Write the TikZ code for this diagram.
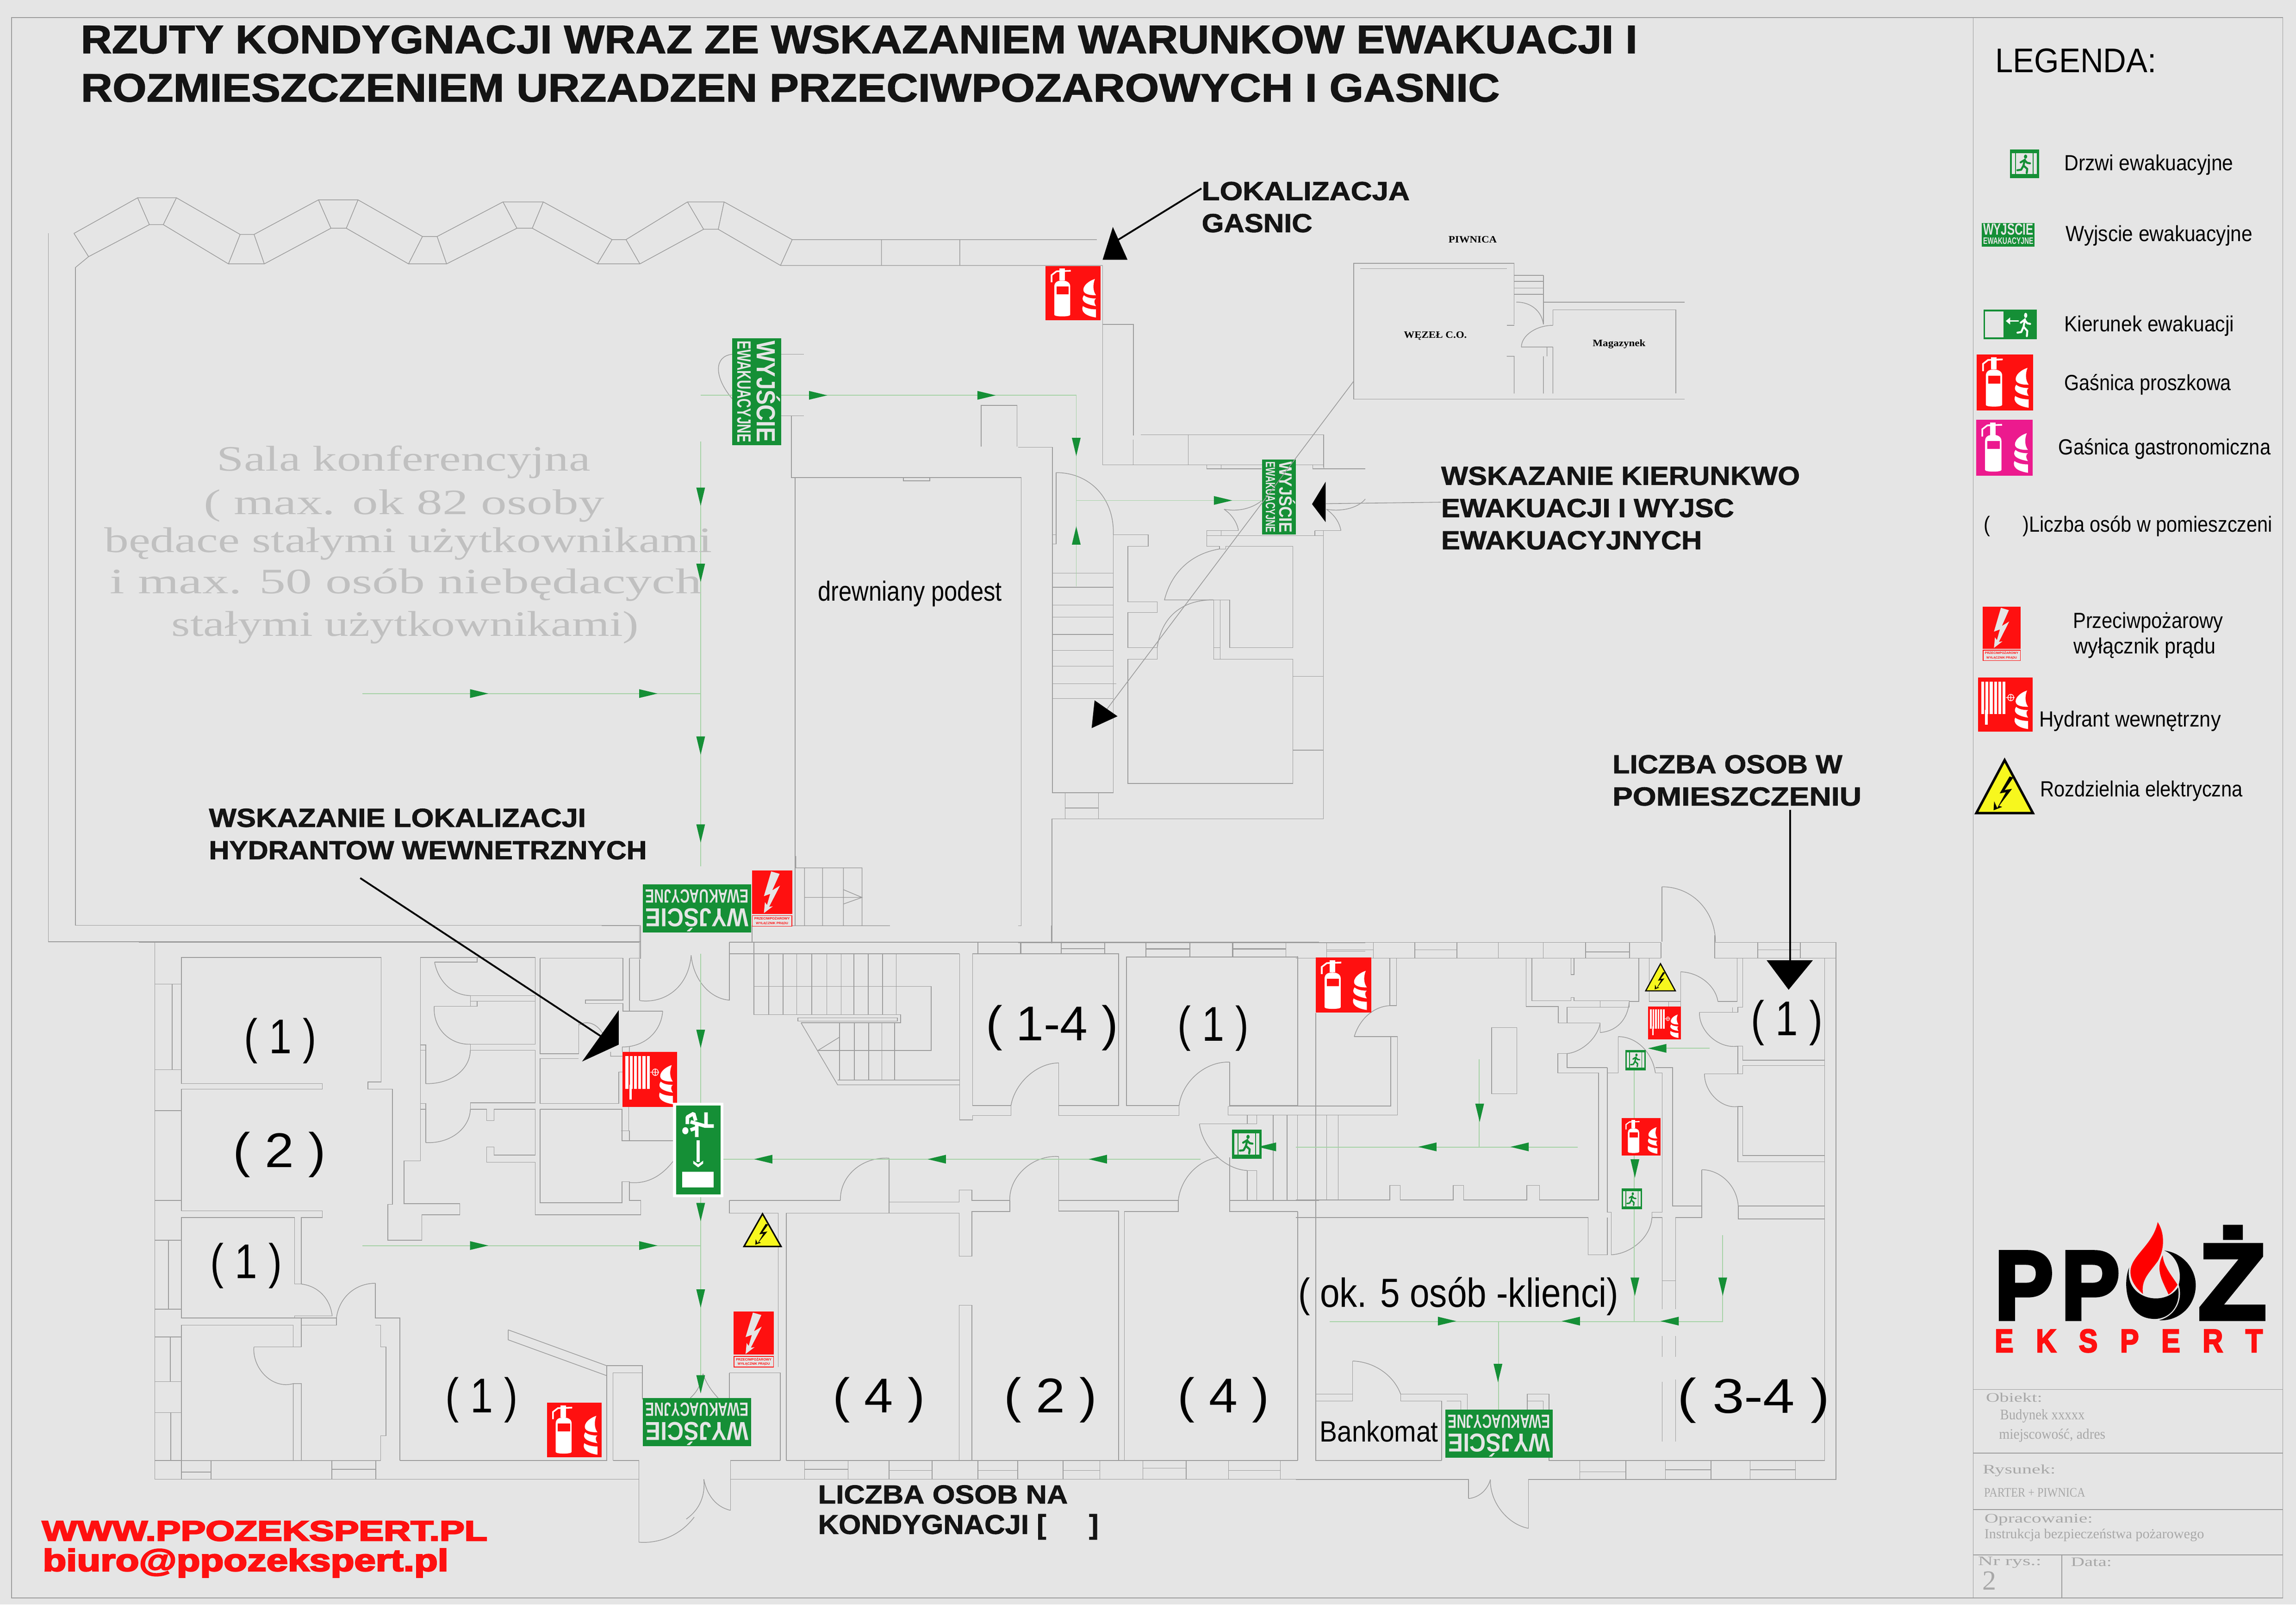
\documentclass[tikz,border=0pt]{standalone}
\usepackage{fontspec}
\usepackage{graphicx}
\setmainfont{Liberation Sans}
\newfontfamily\srf{Liberation Serif}
\newfontfamily\logofont[BoldFeatures={FakeBold=4}]{Liberation Sans}
\newfontfamily\stencilfont[BoldFeatures={FakeBold=1.5}]{Liberation Sans}
\newlength\pu
\setlength\pu{0.031639cm}
\newcounter{nd}
\definecolor{bgc}{HTML}{E5E5E5}
\definecolor{gr}{HTML}{158F36}
\definecolor{rd}{HTML}{FF1010}
\definecolor{pk}{HTML}{EC1A8E}
\definecolor{wall}{HTML}{9C9C9C}
\definecolor{gline}{HTML}{A6D2A6}
\definecolor{grtx}{HTML}{C0C0C0}
\definecolor{tbtx}{HTML}{A8A8A8}
\definecolor{ylw}{HTML}{F7F71E}
\tikzset{
 plan/.style={draw=wall,line width=.42pt},
 frameline/.style={draw=wall,line width=.5pt},
 route/.style={draw=gline,line width=.5pt},
 leader/.style={draw=black,line width=1.1pt},
 thinleader/.style={draw=wall,line width=.45pt},
 txt/.style={inner sep=0,anchor=west,text=black},
 stencil/.style={font=\stencilfont\bfseries,text=black!92},
 web/.style={font=\logofont\bfseries,text=rd},
 room/.style={text=black},
 grey/.style={font=\srf,text=grtx},
 tb/.style={font=\srf,text=tbtx},
 smallser/.style={font=\srf\bfseries,text=black},
 z1/.style={x=.5\pu,y=-.3527\pu},
 z2/.style={shift={(784,0)},x=.5\pu,y=-.3527\pu},
 z3/.style={shift={(0,553)},x=.5\pu,y=-.3511\pu},
 z4/.style={shift={(784,553)},x=.5\pu,y=-.3511\pu},
 z6/.style={shift={(1340,821.7)},x=.1453\pu,y=-.1798\pu},
 z7/.style={shift={(410.9,584.7)},x=.1411\pu,y=-.1613\pu},
 z8/.style={shift={(695.3,300.3)},x=.1512\pu,y=-.2318\pu},
 za/.style={shift={(94.8,632.1)},x=.2419\pu,y=-.2721\pu},
 zb/.style={shift={(474.1,632.1)},x=.2721\pu,y=-.2721\pu},
 zc/.style={shift={(885,616.3)},x=.2620\pu,y=-.2822\pu},
}
\newcommand\tx[6]{\stepcounter{nd}\node[txt,#5] (n\arabic{nd}) at (#1,{#2+1.5}) {\fontsize{#4}{#4}\selectfont\resizebox{#3\pu}{\height}{#6}};}
\newcommand\cp[6]{\stepcounter{nd}\node[txt,#5] (n\arabic{nd}) at (#1,#2) {\fontsize{20}{20}\selectfont\resizebox{#3\pu}{#4\pu}{#6}};}
\newcommand\ga[3]{\fill[gr,shift={(#1,#2)},rotate=#3] (0,-3) -- (0,3) -- (12.5,0) -- cycle;}
\newcommand\flames{%
 \fill[white] (.90,.24) .. controls (.72,.30) and (.64,.44) .. (.72,.50) .. controls (.78,.54) and (.86,.54) .. (.92,.54) .. controls (.86,.46) and (.86,.34) .. (.90,.24) -- cycle;
 \fill[white] (.70,.54) .. controls (.64,.62) and (.68,.70) .. (.92,.74) .. controls (.88,.68) and (.88,.62) .. (.92,.60) .. controls (.82,.60) and (.74,.58) .. (.70,.54) -- cycle;
 \fill[white] (.68,.74) .. controls (.64,.84) and (.72,.92) .. (.92,.95) -- (.92,.80) .. controls (.82,.80) and (.74,.78) .. (.68,.74) -- cycle;}
\newcommand\extsign[5]{\begin{scope}[shift={(#1,#2)},x=#3\pu,y=-#4\pu]
 \fill[#5] (0,0) rectangle (1,1);
 \fill[white] (.16,.9) -- (.16,.38) .. controls (.16,.3) and (.22,.27) .. (.3,.27) .. controls (.38,.27) and (.45,.3) .. (.45,.38) -- (.45,.9) .. controls (.45,.94) and (.16,.94) .. (.16,.9) -- cycle;
 \fill[white] (.25,.05) rectangle (.35,.27);
 \draw[white,line width={#4*.03*\pu}] (.11,.3) -- (.11,.17) -- (.2,.1) -- (.46,.09);
 \fill[#5] (.2,.38) rectangle (.42,.52);
 \flames
\end{scope}}
\newcommand\hydsign[4]{\begin{scope}[shift={(#1,#2)},x=#3\pu,y=-#4\pu]
 \fill[rd] (0,0) rectangle (1,1);
 \foreach \i in {0,...,5}{\fill[white] ({.057+.078*\i},.08) rectangle ({.057+.078*\i+.052},.67);}
 \fill[white] (.125,.6) rectangle (.175,.87);
 \draw[white,line width={#4*.012*\pu}] (.6,.37) ellipse (.055 and .06) (.51,.37) -- (.67,.37) (.6,.31) -- (.6,.43);
 \flames
\end{scope}}
\newcommand\swsign[4]{\begin{scope}[shift={(#1,#2)},x=#3\pu,y=-#4\pu]
 \fill[rd] (0,0) rectangle (1,.77);
 \fill[bgc] (.479,.02) -- (.688,.063) -- (.505,.354) -- (.698,.271) -- (.427,.646) -- (.521,.637) -- (.297,.758) -- (.323,.563) -- (.375,.614) -- (.453,.417) -- (.297,.458) -- cycle;
 \draw[rd,fill=bgc,line width={#4*.012*\pu}] (.01,.8) rectangle (.99,.99);
 \stepcounter{nd}\node[inner sep=0,text=rd] (n\arabic{nd}) at (.5,.85) {\fontsize{6}{6}\selectfont\resizebox{\dimexpr #3\pu*88/100\relax}{!}{\bfseries PRZECIWPOŻAROWY}};
 \stepcounter{nd}\node[inner sep=0,text=rd] (n\arabic{nd}) at (.5,.94) {\fontsize{6}{6}\selectfont\resizebox{\dimexpr #3\pu*80/100\relax}{!}{\bfseries WYŁĄCZNIK PRĄDU}};
\end{scope}}
\newcommand\warnsign[5]{\begin{scope}[shift={(#1,#2)},x=#3\pu,y=-#4\pu]
 \draw[black,fill=ylw,line width=#5,line join=miter] (.5,.03) -- (.04,.97) -- (.96,.97) -- cycle;
 \fill[black] (.58,.32) -- (.42,.62) -- (.52,.6) -- (.38,.88) -- (.33,.76) -- (.32,.92) -- (.46,.86) -- (.41,.84) -- (.62,.54) -- (.5,.56) -- (.64,.34) -- cycle;
\end{scope}}
\newcommand\manfig[2]{%
 \fill[#2] (.55,.19) circle (.07 and .09);
 \draw[#2,line width=#1,line cap=round,line join=round] (.52,.32) -- (.46,.58) -- (.62,.72) -- (.6,.9) (.46,.58) -- (.36,.76) -- (.2,.78) (.5,.34) -- (.34,.44) (.5,.34) -- (.62,.46) -- (.74,.48);}
\newcommand\doorsign[4]{\begin{scope}[shift={(#1,#2)},x=#3\pu,y=-#4\pu]
 \fill[gr] (0,0) rectangle (1,1);
 \fill[bgc] (.07,.13) rectangle (.93,.86);
 \begin{scope}[shift={(.1,.1)},x=.8*#3\pu,y=-.8*#4\pu]\manfig{{#4*.07*\pu}}{gr}\end{scope}
 \draw[gr,line width={#4*.04*\pu}] (.2,.13) -- (.2,.86) (.8,.13) -- (.8,.86);
\end{scope}}
\newcommand\exitsign[6]{\begin{scope}[shift={(#1,#2)},rotate=#5]
 \fill[gr] ({-#3/2},{-#4/2}) rectangle ({#3/2},{#4/2});
 \stepcounter{nd}\node[inner sep=0,text=bgc,transform shape] (n\arabic{nd}) at (0,{-.24*#4}) {\fontsize{20}{20}\selectfont\resizebox*{\dimexpr #3\pu*95/100\relax}{\dimexpr #4\pu*48/100\relax}{\bfseries #6}};
 \stepcounter{nd}\node[inner sep=0,text=bgc,transform shape] (n\arabic{nd}) at (0,{.255*#4}) {\fontsize{20}{20}\selectfont\resizebox*{\dimexpr #3\pu*95/100\relax}{\dimexpr #4\pu*28/100\relax}{\bfseries EWAKUACYJNE}};
\end{scope}}
\begin{document}
\begin{tikzpicture}[x=\pu,y=-\pu]
\useasboundingbox (0,0) rectangle (1568,1103.7);
\fill[white] (0,0) rectangle (1568,1103.7);
\fill[bgc] (0,0) rectangle (1568,1095.8);
\draw[frameline] (8,12) rectangle (1559,1091.4);
\draw[frameline] (1347.5,12) -- (1347.5,1091.4);
\draw[frameline] (1347.5,949) -- (1559,949) (1347.5,992.5) -- (1559,992.5) (1347.5,1031) -- (1559,1031) (1347.5,1062) -- (1559,1062) (1408,1062) -- (1408,1091.4);
% ---------- upper plan
\begin{scope}[z1]
\draw[plan] (101,452) -- (188,383) -- (241,383) -- (328,454) -- (347,454) -- (435,387) -- (489,387) -- (577,458) -- (597,458) -- (687,391) -- (742,391) -- (836,464) -- (855,464) -- (939,391) -- (989,391) -- (1082,464) -- (1498,464);
\draw[plan] (103,518) -- (121,497) -- (204,435) -- (223,435) -- (312,511) -- (361,511) -- (452,442) -- (473,442) -- (558,511) -- (610,511) -- (706,442) -- (727,442) -- (816,511) -- (874,511) -- (961,444) -- (981,444) -- (1066,514) -- (1506,514);
\draw[plan] (101,452) -- (121,497) (188,383) -- (204,435) (241,383) -- (223,435) (328,454) -- (312,511) (347,454) -- (361,511) (435,387) -- (452,442) (489,387) -- (473,442) (577,458) -- (558,511) (597,458) -- (610,511) (687,391) -- (706,442) (742,391) -- (727,442) (836,464) -- (816,511) (855,464) -- (874,511) (939,391) -- (961,444) (989,391) -- (981,444) (1082,464) -- (1066,514) (1204,464) -- (1204,514) (1311,464) -- (1311,514);
\draw[plan] (66,452) -- (66,1568) (103,518) -- (103,1568);
\draw[plan] (1506,514) -- (1506,900) (1506,628) -- (1548,628) -- (1548,843);
\draw[plan] (1081,805) -- (1081,925) -- (1395,925) (1234,925) -- (1234,931) -- (1270,931) -- (1270,925) (1340,865) -- (1340,785) -- (1389,785) -- (1389,865) (1067,686) -- (1098,686) (1067,805) -- (1098,805);
\draw[plan] (1000,686) .. controls (975,690) and (975,730) .. (1000,772);
\end{scope}
\draw[plan] (543,326) -- (543,632);
\begin{scope}[z8]
\draw[plan] (0,22) -- (155,22) -- (155,1040) -- (430,1040) -- (430,280);
\draw[plan] (0,112) -- (14,112) -- (14,1432) -- (0,1432);
\draw[plan] (172,97) -- (172,307) -- (155,307) (155,280) -- (172,280);
\draw[plan] (172,97) .. controls (320,97) and (435,170) .. (430,280);
\draw[plan] (430,280) -- (588,280) -- (588,314) -- (496,314) -- (496,478) -- (628,478) -- (628,509) -- (496,509) -- (496,613) -- (628,613) -- (628,647) -- (496,647) -- (496,1013) -- (1241,1013) -- (1241,647) -- (883,647) -- (883,472) -- (956,472) -- (956,613) -- (1241,613) -- (1241,314) -- (938,314) -- (938,322) -- (910,322) -- (910,314) -- (852,314) -- (852,268) -- (917,268);
\draw[plan] (913,472) -- (913,647) (883,613) -- (913,613);
\draw[plan] (910,322) .. controls (790,335) and (695,385) .. (661,472) -- (883,472);
\draw[plan] (880,472) .. controls (760,472) and (650,510) .. (628,613);
\draw[plan] (155,393) -- (430,393) (155,435) -- (430,435) (155,487) -- (430,487) (155,523) -- (430,523) (155,574) -- (430,574) (155,621) -- (430,621) (155,667) -- (430,667) (155,719) -- (443,719) (155,763) -- (430,763);
\draw[plan] (212,1040) -- (212,1117) (363,1040) -- (363,1117) (212,1085) -- (363,1085);
\draw[plan] (152,1485) -- (152,1117) -- (1379,1117) -- (1379,283) -- (852,283);
\draw[plan] (1241,697) -- (1379,697) (1241,915) -- (1379,915);
\draw[plan] (382,0) -- (382,74) -- (1381,74) -- (1381,0) (520,0) -- (520,74) (768,0) -- (768,74) (1381,74) -- (1381,86);
\draw[plan] (852,74) -- (852,86) -- (1100,86) (917,74) -- (917,86) (1331,74) -- (1331,86) -- (1568,86);
\draw[plan] (917,268) -- (995,268) (917,268) -- (917,283) (1340,268) -- (1458,268) (1340,268) -- (1340,283) (1379,268) -- (1379,283);
\draw[plan] (930,205) .. controls (965,220) and (990,245) .. (995,268);
\draw[plan] (930,205) .. controls (990,212) and (1050,205) .. (1100,180);
\draw[plan] (1392,205) .. controls (1425,220) and (1450,240) .. (1458,268);
\draw[plan] (1392,205) .. controls (1450,212) and (1530,205) .. (1568,175);
\draw[plan] (0,1482) -- (1568,1482) (10,1482) -- (10,1515) (195,1482) -- (195,1515) (195,1500) -- (392,1500) (392,1482) -- (392,1515) (578,1482) -- (578,1524) (578,1502) -- (775,1502) (775,1482) -- (775,1524) (968,1482) -- (968,1524) (968,1502) -- (1209,1502) (1209,1482) -- (1209,1524) (1393,1482) -- (1393,1527) (1393,1507) -- (1568,1507);
\end{scope}
\begin{scope}[z2]
\draw[plan] (500,510) -- (281,510) -- (281,773) -- (733,773) (290,520) -- (490,520) (500,510) -- (500,628) (490,630) -- (500,630);
\draw[plan] (500,533) -- (540,533) (500,545) -- (540,545) (500,558) -- (540,558) (500,570) -- (540,570) (540,533) -- (540,628);
\draw[plan] (503,585) .. controls (525,585) and (538,605) .. (540,628);
\draw[plan] (540,585) -- (733,585) (553,600) -- (721,600) -- (721,762) (553,600) -- (553,630);
\draw[plan] (553,630) .. controls (530,630) and (510,650) .. (510,672) -- (553,672) (545,672) -- (545,690) (553,672) -- (553,762) (540,690) -- (540,762) (490,690) -- (500,690) -- (500,762);
\draw[plan] (-10,842) -- (240,842) -- (240,905) (55,842) -- (55,900);
\end{scope}
\begin{scope}[z3]
\draw[plan] (66,0) -- (66,257) -- (875,257) (103,0) -- (103,225) -- (875,225) (875,225) -- (875,290);
\draw[plan] (1437,17) -- (1437,257);
\end{scope}
% ---------- north stair and main door
\begin{scope}[z7]
\draw[plan] (940,0) -- (940,50) -- (1260,50) -- (1260,295) (982,50) -- (982,295) (1069,50) -- (1069,295) (1170,50) -- (1170,295) (982,175) -- (1260,175) (1170,142) -- (1260,175) -- (1170,203) (729,295) -- (1395,295);
\draw[plan] (183,295) -- (183,440) (0,295) -- (183,295) (185,440) -- (185,612);
\draw[plan] (185,612) .. controls (300,625) and (420,560) .. (433,420);
\draw[plan] (433,420) .. controls (445,530) and (530,605) .. (619,610);
\draw[plan] (619,610) -- (619,366) (729,295) -- (729,366);
\end{scope}
% ---------- lower left
\begin{scope}[za]
\draw[plan] (1413,188) -- (1413,40);
\draw[plan] (45,42) -- (45,1390) -- (1412,1390) -- (1412,1548) (0,42) -- (1413,42);
\draw[plan] (1412,1548) .. controls (1470,1552) and (1530,1530) .. (1568,1485);
\draw[plan] (45,147) -- (120,147) (94,147) -- (94,362) (45,362) -- (120,362) (45,465) -- (120,465) (45,690) -- (120,690) (45,790) -- (120,790) (84,790) -- (84,963) (45,963) -- (120,963) (45,1033) -- (120,1033) (89,1033) -- (89,1145) (45,1145) -- (120,1145) (45,1223) -- (120,1223) (90,1223) -- (90,1343) (45,1343) -- (120,1343);
\draw[plan] (120,397) -- (120,80) -- (684,80) -- (684,393) -- (647,393) -- (647,411) -- (716,411) -- (716,700) -- (703,700) -- (703,790) -- (799,790) -- (799,726) -- (906,726) -- (906,698) -- (749,698) -- (749,591) -- (795,591) -- (795,80) -- (955,80);
\draw[plan] (120,397) -- (518,397) -- (518,411) -- (120,411) -- (120,716) -- (518,716) -- (518,733) -- (459,733) -- (459,900) -- (440,900) -- (440,733) -- (120,733) -- (120,985) -- (558,985) (440,985) -- (440,980) -- (546,980);
\draw[plan] (120,1003) -- (436,1003) -- (436,1058) -- (325,1058) (120,1003) -- (120,1390) (459,1003) -- (459,1058) -- (436,1058) (459,1003) -- (558,1003) -- (558,985) (459,985) -- (459,1003);
\draw[plan] (459,900) .. controls (505,905) and (540,935) .. (546,980);
\draw[plan] (668,898) .. controls (610,898) and (565,935) .. (558,985);
\draw[plan] (668,898) -- (668,985) -- (737,985) -- (737,1343) (668,1003) -- (683,1003) -- (683,1058) -- (698,1058) -- (698,1281) -- (683,1281) -- (683,1343);
\draw[plan] (325,1058) .. controls (320,1110) and (375,1165) .. (436,1150) -- (459,1150) -- (459,1343) (436,1150) -- (436,1343) (120,1343) -- (683,1343);
\draw[plan] (737,1343) -- (1321,1343) -- (1321,1105) -- (1422,1105) -- (1422,1190) (1339,1343) -- (1339,1123) -- (1422,1123) (1339,1343) -- (1412,1343) -- (1412,1390);
\draw[plan] (1043,1015) -- (1321,1105) (1043,1015) -- (1043,1040) -- (1321,1130);
\draw[plan] (120,1372) -- (204,1372) (204,1343) -- (204,1390) (545,1343) -- (545,1390) (545,1365) -- (669,1365) (669,1343) -- (669,1390);
\draw[plan] (955,80) -- (955,92) -- (835,92);
\draw[plan] (835,92) .. controls (845,140) and (885,175) .. (936,176);
\draw[plan] (936,176) -- (1119,176) (936,176) -- (936,203) -- (955,203) -- (955,190) -- (1119,190) (936,190) -- (955,190) (955,80) -- (1119,80) -- (1119,298) -- (936,298) (834,203) -- (936,203);
\draw[plan] (834,203) .. controls (830,260) and (880,300) .. (936,298);
\draw[plan] (936,298) -- (936,313) -- (1119,313) -- (1119,445) -- (936,445);
\draw[plan] (936,313) .. controls (935,360) and (885,398) .. (810,397);
\draw[plan] (810,397) -- (810,300) -- (795,300) (795,313) -- (810,313);
\draw[plan] (936,445) -- (936,461) -- (982,461) -- (982,490) -- (1003,490) -- (1003,461) -- (1119,461) -- (1119,576) -- (1003,576) -- (1003,556) -- (982,556) -- (982,594) -- (1119,594) -- (1119,726) -- (1417,726) -- (1417,690) -- (1385,690) -- (1385,643);
\draw[plan] (936,461) .. controls (935,505) and (885,548) .. (810,545);
\draw[plan] (810,545) -- (810,447) -- (795,447) (795,461) -- (810,461);
\draw[plan] (1133,82) -- (1367,82) -- (1367,187) -- (1261,187) -- (1261,196) -- (1367,196) -- (1367,215) -- (1385,215) (1133,82) -- (1133,322) -- (1242,322) -- (1242,240) (1133,334) -- (1242,334) (1133,334) -- (1133,447) -- (1355,447) -- (1355,368) -- (1365,368);
\draw[plan] (1133,461) -- (1364,461) -- (1364,540) -- (1510,540) (1133,461) -- (1133,696) -- (1364,696) -- (1364,643) -- (1385,643) (1383,455) -- (1383,515) -- (1362,515) (1385,515) -- (1385,540);
\draw[plan] (1385,82) -- (1414,82) (1385,82) -- (1385,215) -- (1479,215);
\draw[plan] (1479,215) .. controls (1475,265) and (1430,305) .. (1365,305) -- (1365,317) (1385,305) -- (1385,317) (1332,317) -- (1332,328) -- (1365,328);
\draw[plan] (1242,250) .. controls (1270,235) and (1300,250) .. (1315,280);
\draw[plan] (1510,590) .. controls (1480,625) and (1440,650) .. (1385,645);
\end{scope}
% ---------- lower middle
\begin{scope}[zb]
\draw[plan] (88,42) -- (1568,42) (88,42) -- (88,188) (88,71) -- (150,71) (150,42) -- (150,224) (145,0) -- (145,42) (897,0) -- (897,42);
\draw[plan] (150,71) -- (666,71);
\foreach \v in {187,223,257,295,333,369,401,437,473,507}{\draw[plan] (\v,71) -- (\v,224);}
\draw[plan] (150,153) -- (595,153) -- (595,314) -- (310,314) (150,224) -- (518,224) -- (518,244) -- (268,244) (260,232) rectangle (510,240);
\draw[plan] (268,244) -- (360,400) -- (666,400) (360,388) -- (666,388) (310,314) -- (365,280);
\foreach \v in {365,402,438,471,503}{\draw[plan] (\v,244) -- (\v,388);}
\draw[plan] (666,71) -- (666,488) -- (699,488) -- (699,477) -- (795,477) -- (795,452) -- (699,452) -- (699,71) -- (1065,71) -- (1065,452) -- (915,452) -- (915,345);
\draw[plan] (915,345) .. controls (860,345) and (805,395) .. (795,452);
\draw[plan] (915,452) -- (915,477) -- (1217,477) -- (1217,452) -- (1085,452) -- (1085,79) -- (1515,79) -- (1515,452) -- (1344,452) -- (1344,343);
\draw[plan] (1344,343) .. controls (1285,340) and (1225,390) .. (1217,452);
\draw[plan] (712,42) -- (712,71) (820,42) -- (820,71) (921,42) -- (921,71) (921,58) -- (1030,58) (1030,42) -- (1030,71) (1134,42) -- (1134,79) (1134,58) -- (1244,58) (1244,42) -- (1244,79) (1352,42) -- (1352,79) (1352,58) -- (1485,58) (1485,42) -- (1485,79);
\draw[plan] (1340,454) -- (1568,454) (1340,454) -- (1340,476) -- (1568,476) (1388,476) -- (1388,498) -- (1412,498) -- (1412,476) (1453,476) -- (1453,690) (1488,476) -- (1488,690) (1268,498) -- (1412,498);
\draw[plan] (1268,498) .. controls (1275,555) and (1330,612) .. (1388,615);
\draw[plan] (1388,615) -- (1412,615) -- (1412,690) -- (1388,690) -- (1388,615);
\draw[plan] (1316,582) .. controls (1260,590) and (1220,640) .. (1215,690);
\draw[plan] (1344,582) -- (1344,690) -- (1568,690) (1344,690) -- (1344,718) -- (1515,718) (1515,718) -- (1515,1343);
\draw[plan] (88,690) -- (367,690);
\draw[plan] (367,690) .. controls (365,630) and (420,580) .. (489,584);
\draw[plan] (489,584) -- (489,722) -- (231,722) -- (231,1343) (88,690) -- (88,722) -- (211,722) -- (211,1108);
\draw[plan] (489,694) -- (665,694) -- (665,664) -- (697,664) -- (697,690) -- (792,690) (489,722) -- (665,722) -- (665,830) -- (697,830) -- (697,718) -- (792,718) -- (792,690);
\draw[plan] (792,690) .. controls (790,630) and (850,575) .. (915,580);
\draw[plan] (915,580) -- (915,717) -- (1065,717) -- (1065,1343) (915,690) -- (1215,690) -- (1215,718) -- (1080,718) -- (1080,1343) (665,953) -- (697,953) -- (697,1343) (665,953) -- (665,1343);
\draw[plan] (91,1343) -- (216,1343) (231,1343) -- (1515,1343) (88,1123) -- (216,1123) -- (216,1343) (88,1123) -- (88,1186);
\draw[plan] (91,1343) -- (91,1468) (91,1390) -- (1568,1390) (277,1343) -- (277,1390) (277,1365) -- (386,1365) (386,1343) -- (386,1390) (489,1343) -- (489,1390) (489,1368) -- (597,1368) (597,1343) -- (597,1390) (712,1343) -- (712,1390) (712,1368) -- (812,1368) (812,1343) -- (812,1390) (926,1343) -- (926,1390) (926,1368) -- (1018,1368) (1018,1343) -- (1018,1390) (1126,1343) -- (1126,1390) (1126,1362) -- (1235,1362) (1235,1343) -- (1235,1390) (1341,1343) -- (1341,1390) (1341,1368) -- (1471,1368) (1471,1343) -- (1471,1390);
\draw[plan] (24,1390) .. controls (32,1430) and (55,1460) .. (91,1468);
\draw[plan] (24,1390) .. controls (28,1430) and (15,1465) .. (-20,1490);
\draw[plan] (22,1125) .. controls (18,1150) and (8,1170) .. (-10,1186) (22,1125) .. controls (30,1150) and (45,1170) .. (60,1186);
\end{scope}
% ---------- lower right
\begin{scope}[z4]
\draw[plan] (702,150) -- (702,257);
\draw[plan] (702,150) .. controls (745,150) and (775,200) .. (775,257);
\end{scope}
\begin{scope}[zc]
\draw[plan] (0,97) -- (952,97) (952,97) -- (952,135) (1092,97) -- (1408,97) -- (1408,1397) -- (606,1397) (0,135) -- (952,135) (1092,80) -- (1092,135) -- (1408,135);
\draw[plan] (80,97) -- (80,135) (80,115) -- (202,115) (202,97) -- (202,135) (310,97) -- (310,135) (310,115) -- (420,115) (420,97) -- (420,135) (528,97) -- (528,135) (645,97) -- (645,135) (755,97) -- (755,135) (755,120) -- (870,120) (870,97) -- (870,135) (1204,97) -- (1204,135) (1204,115) -- (1315,115) (1315,97) -- (1315,135);
\draw[plan] (1378,135) -- (1378,1351) -- (660,1351) -- (660,1190) -- (603,1190) -- (603,1230) (603,1207) -- (645,1207) -- (645,1230);
\draw[plan] (52,268) -- (52,1351) -- (380,1351) (245,135) -- (245,250) -- (262,250) -- (262,135);
\draw[plan] (245,250) .. controls (200,252) and (165,285) .. (152,325);
\draw[plan] (152,325) -- (265,325) -- (265,515) -- (0,515) (247,325) -- (247,493) -- (0,493) (4,130) -- (4,493) (4,515) -- (4,720) (4,750) -- (4,1351) (80,515) -- (80,720) (110,515) -- (110,720);
\draw[plan] (0,720) -- (245,720) -- (245,685) -- (272,685) -- (272,720) -- (410,720) -- (410,685) -- (437,685) -- (437,720) -- (602,720) -- (602,685) -- (635,685) -- (635,720) -- (789,720) -- (789,413) -- (683,413) -- (683,366) -- (707,366) -- (707,400) -- (812,400) (812,413) -- (812,400) (812,413) -- (840,413) -- (840,325);
\draw[plan] (840,325) .. controls (890,325) and (930,365) .. (937,413);
\draw[plan] (937,413) -- (955,413) -- (955,750) -- (928,750) -- (928,763) -- (955,763) -- (955,916) -- (990,916) -- (990,763) -- (1058,763) -- (1058,647) (937,400) -- (982,400) -- (982,735) -- (1058,735);
\draw[plan] (812,413) -- (812,750) -- (822,750) -- (822,853) (812,763) -- (812,853) -- (762,853) -- (762,763) -- (0,763);
\draw[plan] (822,853) .. controls (875,850) and (925,810) .. (928,763);
\draw[plan] (1058,647) .. controls (1105,647) and (1150,685) .. (1153,735);
\draw[plan] (1153,735) -- (1153,766) -- (1378,766) (1153,735) -- (1378,735);
\draw[plan] (955,916) -- (955,985) (990,916) -- (990,985) (955,1050) -- (955,1100) (990,1050) -- (990,1100) (955,1160) -- (955,1305) (990,1155) -- (990,1305);
\draw[plan] (600,135) -- (600,252) -- (684,252) -- (684,292) -- (793,292) -- (793,315) (707,292) -- (707,254) -- (793,254) (615,135) -- (615,238) -- (717,238) -- (717,230) -- (725,230) -- (725,238) -- (793,238) -- (793,254) (717,135) -- (717,175) -- (725,175) -- (725,135);
\draw[plan] (793,293) .. controls (785,330) and (745,362) .. (707,366);
\draw[plan] (793,315) .. controls (835,312) and (865,285) .. (869,240);
\draw[plan] (793,254) -- (869,254) -- (869,238) -- (793,238) (894,135) -- (894,240) -- (869,240) (921,135) -- (921,240) -- (1003,240) (972,240) -- (972,254) (1003,168) -- (1003,330);
\draw[plan] (1003,168) .. controls (1055,170) and (1095,205) .. (1100,240);
\draw[plan] (1100,240) -- (1150,240) -- (1150,135) (1165,135) -- (1165,254) -- (1152,254) -- (1152,266) -- (1052,266) (1138,254) -- (1138,266);
\draw[plan] (1052,266) .. controls (1050,310) and (1100,355) .. (1152,348);
\draw[plan] (1152,348) -- (1165,348) -- (1165,382) -- (1378,382) (1152,348) -- (1152,415) -- (1165,415) -- (1165,395) -- (1378,395) (1065,415) -- (1165,415);
\draw[plan] (1065,415) .. controls (1065,460) and (1110,500) .. (1152,494);
\draw[plan] (1152,494) -- (1165,494) -- (1165,613) -- (1378,613) (1152,494) -- (1152,628) -- (1378,628);
\draw[plan] (510,303) rectangle (576,463);
\draw[plan] (52,1190) -- (148,1190) (52,1207) -- (148,1207) (148,1110) -- (148,1207);
\draw[plan] (148,1110) .. controls (205,1112) and (255,1145) .. (273,1190);
\draw[plan] (273,1190) -- (447,1190) -- (447,1230) (273,1190) -- (273,1207) -- (380,1207) -- (380,1351) (393,1207) -- (430,1207) -- (430,1230);
\draw[plan] (0,1397) -- (450,1397) -- (450,1443) (606,1397) -- (606,1515);
\draw[plan] (507,1397) .. controls (500,1420) and (480,1440) .. (450,1443);
\draw[plan] (507,1397) .. controls (505,1450) and (550,1505) .. (606,1515);
\draw[plan] (740,1351) -- (740,1397) (740,1378) -- (860,1378) (860,1351) -- (860,1397) (963,1351) -- (963,1397) (963,1373) -- (1082,1373) (1082,1351) -- (1082,1397) (1184,1351) -- (1184,1397) (1184,1373) -- (1302,1373) (1302,1351) -- (1302,1397);
\end{scope}
% ---------- evacuation routes
\begin{scope}[z1]
\draw[route] (957,765) -- (1470,765) -- (1470,1135) (957,855) -- (957,1568) (495,1343) -- (957,1343);
\end{scope}
\begin{scope}[z8]
\draw[route] (262,179) -- (1100,179);
\end{scope}
\begin{scope}[z3]
\draw[route] (957,0) -- (957,110) (957,280) -- (957,1130) (495,848) -- (957,848) (988,680) -- (1640,680);
\end{scope}
\begin{scope}[zc]
\draw[route] (0,593) -- (735,593) (478,380) -- (478,593) (920,353) -- (1078,353) (882,407) -- (882,1015) (1112,805) -- (1112,1015) -- (88,1015) (528,1015) -- (528,1230);
\end{scope}
\ga{552.5}{270}{0}\ga{667.5}{270}{0}\ga{735}{299}{-90}\ga{735}{372}{90}
\ga{478.5}{333}{-90}\ga{478.5}{385}{-90}\ga{478.5}{503}{-90}\ga{321}{473.7}{0}\ga{436.5}{473.7}{0}
\ga{829}{341.8}{0}
\ga{478.5}{563}{-90}\ga{478.5}{703.3}{-90}\ga{478.5}{821.6}{-90}\ga{478.5}{880.6}{-90}\ga{478.5}{939.2}{-90}
\ga{321}{850.7}{0}\ga{436.5}{850.7}{0}
\ga{527.5}{791.7}{180}\ga{646}{791.7}{180}\ga{756}{791.7}{180}
\ga{871.5}{783.3}{180}\ga{981}{783.3}{180}\ga{1044}{783.3}{180}
\ga{1010.5}{753.8}{-90}\ga{1138}{716}{180}\ga{1116.5}{791.8}{-90}\ga{1116.5}{872.5}{-90}\ga{1176.5}{872.5}{-90}
\ga{982}{902.3}{0}\ga{1079}{902.3}{180}\ga{1146.5}{902.3}{180}\ga{1023}{931.5}{-90}
% ---------- signs
\extsign{714}{181.6}{37.5}{37.1}{rd}
\extsign{373.5}{958}{37.5}{37.4}{rd}
\extsign{898.5}{654}{38}{37.7}{rd}
\extsign{1107.5}{763.7}{26.5}{25.6}{rd}
\extsign{1350}{242}{38.5}{38.4}{rd}
\extsign{1349.5}{286.7}{38.5}{38.1}{pk}
\hydsign{425}{718.4}{37.5}{37.6}
\hydsign{1125.5}{687.5}{22.5}{22.5}
\hydsign{1351}{462.7}{37}{37.1}
\swsign{513.5}{594.4}{27.5}{38.6}
\swsign{501}{895.7}{27.5}{38.3}
\swsign{1354}{414.4}{26}{37.1}
\warnsign{507}{828.3}{27.5}{23.7}{.9pt}
\warnsign{1123}{657.6}{22}{19.7}{.7pt}
\warnsign{1348}{518}{42}{38.5}{1.5pt}
\exitsign{516.75}{267.5}{73}{33.5}{-90}{WYJŚCIE}
\exitsign{873.5}{339.5}{51}{23}{-90}{WYJŚCIE}
\exitsign{476}{620.5}{74}{33}{180}{WYJŚCIE}
\exitsign{476}{971.2}{74}{33}{180}{WYJŚCIE}
\exitsign{1023.75}{979.2}{73.5}{33}{180}{WYJŚCIE}
\exitsign{1371.5}{160.5}{36}{16.2}{0}{WYJSCIE}
\doorsign{841.5}{771.4}{20}{20}
\doorsign{1110}{717}{14}{14}
\doorsign{1107.5}{811.8}{14}{14}
\doorsign{1372.5}{102}{20}{19.7}
\begin{scope}[shift={(1354.5,211.6)},x=36.5\pu,y=-20.1\pu]
\fill[gr] (0,0) rectangle (1,1);
\fill[bgc] (.03,.06) rectangle (.38,.94);
\draw[white,line width=.9pt] (.66,.38) -- (.46,.38);
\fill[white] (.42,.38) -- (.5,.26) -- (.5,.5) -- cycle;
\begin{scope}[shift={(.55,0)},x=16\pu,y=-20\pu]\manfig{1.2pt}{white}\end{scope}
\end{scope}
\begin{scope}[z7]
\fill[white] (344,1044) rectangle (589,1445);
\fill[gr] (360,1057) rectangle (576,1432);
\fill[white] (405,1163) circle (15);
\draw[white,line width=2.2pt,line join=bevel] (415,1135) -- (415,1105) -- (445,1090) -- (455,1120) (430,1125) -- (500,1143) -- (543,1143) (505,1143) -- (505,1085) (460,1135) -- (460,1190) (430,1160) -- (460,1150);
\draw[white,line width=2.2pt] (467,1203) -- (467,1295);
\fill[white] (443,1290) -- (467,1305) -- (491,1290) -- (491,1302) -- (467,1318) -- (443,1302) -- cycle;
\fill[white] (390,1337) rectangle (543,1404);
\end{scope}
% ---------- leaders
\coordinate (lokA) at (820.5,128.7);
\coordinate (lokB) at (760,166);
\coordinate (hydA) at (246,599.7);
\coordinate (hydB) at (410,707.5);
\coordinate (licA) at (1222.5,553);
\coordinate (licB) at (1222.5,657);
\coordinate (cellA) at (924.5,260.3);
\coordinate (cellB) at (755.8,484.5);
\coordinate (wskA) at (984,343);
\coordinate (wskB) at (905.5,344);
\draw[thinleader] (cellA) -- (cellB);
\draw[thinleader] (wskB) -- (wskA);
\draw[leader] (lokA) -- (lokB);
\draw[leader] (hydA) -- (hydB);
\draw[leader] (licA) -- (licB);
\fill[black] (760,155) -- (753,177.4) -- (770,177.4) -- cycle;
\fill[black] (422.5,690) -- (397.5,725) -- (422.5,713.5) -- cycle;
\fill[black] (1206.5,655.9) -- (1238,655.9) -- (1221.5,676) -- cycle;
\fill[black] (747.5,478.3) -- (763.2,489.2) -- (745.5,497.3) -- cycle;
\fill[black] (905.3,329) -- (896,344.3) -- (905.3,356.6) -- cycle;
% ---------- stencil labels
\cp{55}{27}{1063}{19}{stencil}{RZUTY KONDYGNACJI WRAZ ZE WSKAZANIEM WARUNKOW EWAKUACJI I}
\cp{55}{60}{969}{19}{stencil}{ROZMIESZCZENIEM URZADZEN PRZECIWPOZAROWYCH I GASNIC}
\cp{820.5}{130.5}{142}{12.5}{stencil}{LOKALIZACJA}
\cp{820.5}{152.4}{75.5}{12.5}{stencil}{GASNIC}
\cp{984}{325}{245}{12.5}{stencil}{WSKAZANIE KIERUNKWO}
\cp{984}{347}{200}{12.5}{stencil}{EWAKUACJI I WYJSC}
\cp{984}{369}{178}{12.5}{stencil}{EWAKUACYJNYCH}
\cp{1101}{522}{157}{12.5}{stencil}{LICZBA OSOB W}
\cp{1101}{544}{170}{12.5}{stencil}{POMIESZCZENIU}
\cp{142.5}{558.6}{257.5}{12.5}{stencil}{WSKAZANIE LOKALIZACJI}
\cp{142.5}{580.7}{299}{12.5}{stencil}{HYDRANTOW WEWNETRZNYCH}
\cp{558.5}{1020.7}{170.5}{12.5}{stencil}{LICZBA OSOB NA}
\cp{558.5}{1042.8}{191.5}{13.5}{stencil}{KONDYGNACJI [\hspace{1.5em}]}
\cp{28.5}{1045.6}{304}{13.5}{web}{WWW.PPOZEKSPERT.PL}
\tx{29}{1066}{277}{19}{web}{biuro@ppozekspert.pl}
% ---------- hall text
\tx{148}{314}{255}{22}{grey}{Sala  konferencyjna}
\tx{139}{344}{273.5}{22}{grey}{( max. ok 82 osoby}
\tx{71}{370}{415}{22}{grey}{będace stałymi użytkownikami}
\tx{75}{398}{404}{22}{grey}{i  max. 50 osób niebędacych}
\tx{117}{427}{319}{22}{grey}{stałymi użytkownikami)}
\tx{558.5}{404}{125.5}{17}{room}{drewniany podest}
% ---------- room counts
\tx{166.5}{709.5}{49.5}{30}{room}{( 1 )}
\tx{159}{787}{63.5}{30}{room}{( 2 )}
\tx{143.5}{863}{49}{30}{room}{( 1 )}
\tx{304}{954.7}{49.5}{30}{room}{( 1 )}
\tx{568.5}{954.7}{63}{30}{room}{( 4 )}
\tx{685.5}{954.7}{63.5}{30}{room}{( 2 )}
\tx{673}{700.5}{90.5}{30}{room}{( 1-4 )}
\tx{804}{701}{48.5}{30}{room}{( 1 )}
\tx{1195.5}{697}{49}{30}{room}{( 1 )}
\tx{804}{954.7}{62.5}{30}{room}{( 4 )}
\tx{1145.5}{955}{104}{30}{room}{( 3-4 )}
\tx{886.5}{884}{218.5}{25}{room}{( ok. 5 osób -klienci)}
\tx{901}{976}{81}{18}{room}{Bankomat}
% ---------- piwnica labels
\tx{989}{162}{33}{6}{smallser}{PIWNICA}
\tx{958.5}{228}{43}{6}{smallser}{WĘZEŁ C.O.}
\tx{1087.5}{233.5}{36}{6}{smallser}{Magazynek}
% ---------- legend
\tx{1362.5}{40}{110}{21}{room}{LEGENDA:}
\tx{1409.5}{111}{115.5}{13.5}{room}{Drzwi ewakuacyjne}
\tx{1410.5}{159.4}{127.5}{13.5}{room}{Wyjscie ewakuacyjne}
\tx{1409.5}{221}{116}{13.5}{room}{Kierunek ewakuacji}
\tx{1409.5}{261}{114}{13.5}{room}{Gaśnica proszkowa}
\tx{1405.5}{305}{145}{13.5}{room}{Gaśnica gastronomiczna}
\begin{scope}
\clip (1345,345) rectangle (1551,372);
\tx{1354.5}{358}{204.5}{13.5}{room}{(\hspace{1.7em})Liczba osób w pomieszczeniu}
\end{scope}
\tx{1415.5}{423.6}{102.5}{13.5}{room}{Przeciwpożarowy}
\tx{1416}{441}{97}{13.5}{room}{wyłącznik prądu}
\tx{1392.5}{491}{124}{13.5}{room}{Hydrant wewnętrzny}
\tx{1393}{538.6}{138.5}{13.5}{room}{Rozdzielnia elektryczna}
% ---------- logo
\cp{1362}{878}{40}{45.8}{font=\logofont\bfseries,text=black}{P}
\cp{1407.4}{878}{40}{45.8}{font=\logofont\bfseries,text=black}{P}
\cp{1501}{869.4}{46.5}{62.8}{font=\logofont\bfseries,text=black}{Ż}
\begin{scope}[z6]
\fill[black] (950,180) .. controls (1040,190) and (1098,250) .. (1098,312) .. controls (1098,390) and (1020,450) .. (925,445) .. controls (1000,430) and (1040,370) .. (1018,310) .. controls (1035,260) and (1010,200) .. (950,180) -- cycle;
\fill[black] (785,245) .. controls (755,300) and (765,440) .. (905,440) .. controls (975,440) and (1030,390) .. (1015,320) .. controls (990,350) and (950,362) .. (910,362) .. controls (840,362) and (770,320) .. (785,245) -- cycle;
\fill[red] (919,72) .. controls (950,110) and (955,170) .. (920,220) .. controls (880,265) and (840,290) .. (850,345) .. controls (810,320) and (780,280) .. (795,240) .. controls (815,190) and (900,150) .. (919,72) -- cycle;
\fill[red] (943,198) .. controls (945,240) and (990,280) .. (1012,310) .. controls (1000,325) and (985,340) .. (970,347) .. controls (945,300) and (905,255) .. (943,198) -- cycle;
\end{scope}
\cp{1362}{915.8}{183}{15.5}{font=\logofont\bfseries,text=rd}{E\hspace{.8em}K\hspace{.8em}S\hspace{.8em}P\hspace{.8em}E\hspace{.8em}R\hspace{.8em}T}
% ---------- title block text
\tx{1356}{953}{38.5}{8}{tb}{Obiekt:}
\tx{1365.7}{965.5}{57.8}{9}{tb}{Budynek xxxxx}
\tx{1365}{979}{72.6}{9}{tb}{miejscowość, adres}
\tx{1353.8}{1003}{49.8}{8}{tb}{Rysunek:}
\tx{1354.8}{1018}{69}{8}{tb}{PARTER + PIWNICA}
\tx{1355}{1036.5}{74}{8}{tb}{Opracowanie:}
\tx{1355}{1047}{150}{8.5}{tb}{Instrukcja bezpieczeństwa pożarowego}
\tx{1350.6}{1065.5}{43.4}{8}{tb}{Nr rys.:}
\tx{1414}{1065.5}{28}{8}{tb}{Data:}
\tx{1353.5}{1078}{9.5}{17}{tb}{2}
\end{tikzpicture}
\end{document}
